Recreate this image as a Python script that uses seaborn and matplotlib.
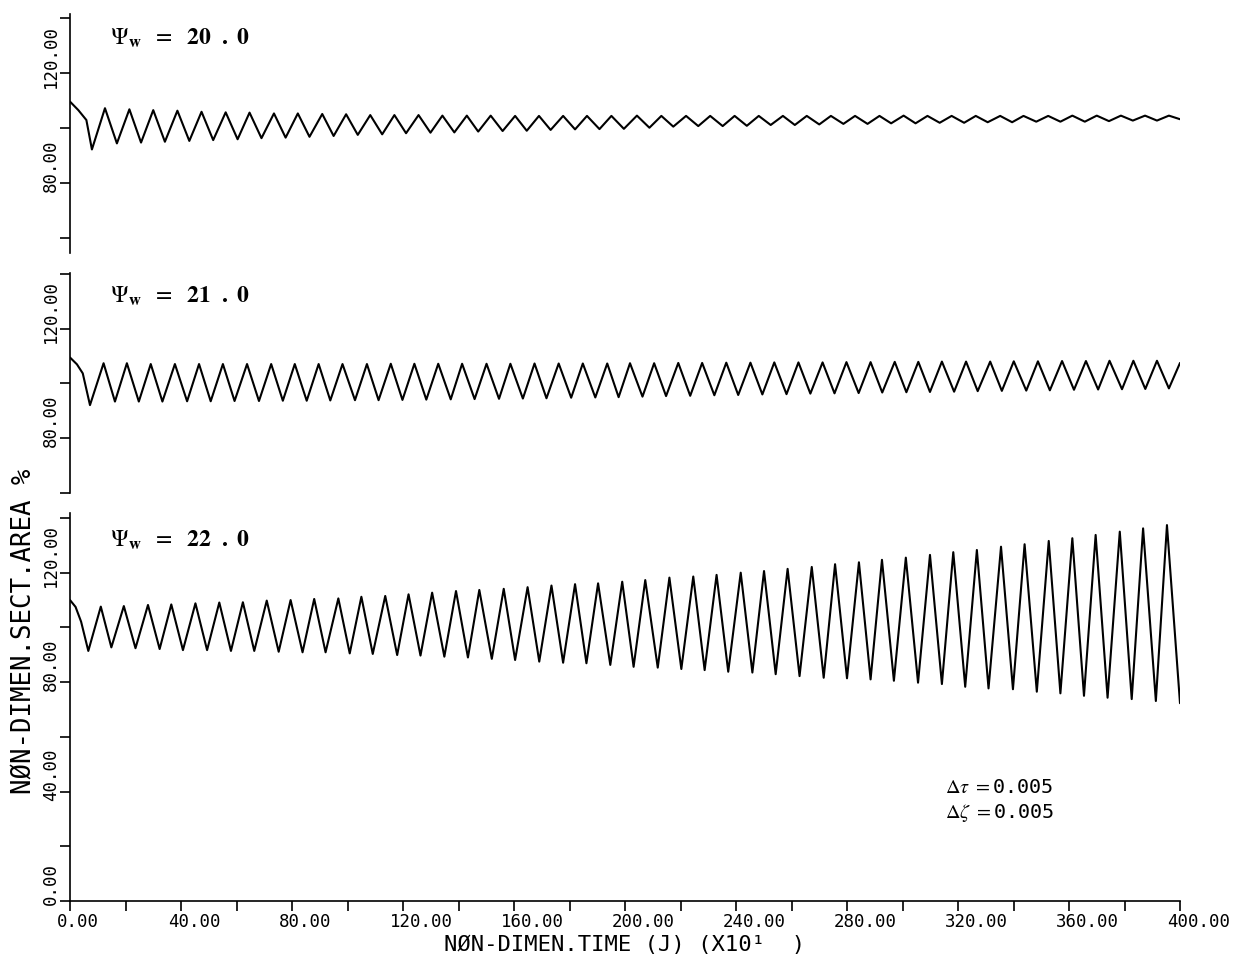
import matplotlib
matplotlib.use("Agg")
import matplotlib.pyplot as plt
import matplotlib.transforms as mtransforms
import seaborn as sns

# ---------------- data ----------------
# time axis (NON-DIMEN. TIME, x10^1), extrema of each oscillation
top_t = [0, 3.0, 5.9, 7.9, 12.6, 16.9, 21.4, 25.6, 30.0, 34.2, 38.7, 43.0, 47.4, 51.6, 56.1, 60.4,
         64.7, 69.0, 73.5, 77.7, 82.1, 86.3, 90.9, 95.0, 99.5, 103.7, 108.2, 112.5, 116.9, 121.1,
         125.6, 129.9, 134.2, 138.5, 143.0, 147.1, 151.6, 155.9, 160.4, 164.6, 169.0, 173.2, 177.7,
         182.0, 186.3, 190.8, 195.1, 199.6, 204.3, 208.8, 213.1, 217.4, 222.0, 226.4, 230.7, 235.2,
         239.5, 243.9, 248.2, 252.5, 256.9, 261.2, 265.5, 270.0, 274.2, 278.7, 282.9, 287.4, 291.7,
         295.9, 300.4, 304.7, 309.0, 313.4, 317.7, 322.2, 326.4, 330.7, 335.2, 339.5, 343.6, 348.2,
         352.5, 356.9, 361.2, 365.7, 370.0, 374.4, 378.7, 383.0, 387.4, 391.7, 396.0, 400.0]
top_v = [109.6, 106.5, 102.9, 92.2, 107.2, 94.4, 106.8, 94.7, 106.5, 95.0, 106.3, 95.3, 105.9, 95.6,
         105.7, 95.9, 105.6, 96.3, 105.3, 96.5, 105.3, 96.8, 105.1, 97.1, 105.0, 97.5, 104.7, 97.7,
         104.7, 98.1, 104.7, 98.3, 104.5, 98.4, 104.5, 98.7, 104.5, 98.9, 104.4, 99.0, 104.4, 99.3,
         104.4, 99.5, 104.4, 99.6, 104.4, 99.7, 104.5, 100.1, 104.4, 100.5, 104.4, 100.7, 104.4,
         100.7, 104.4, 100.8, 104.4, 101.1, 104.4, 101.1, 104.4, 101.3, 104.4, 101.5, 104.4, 101.5,
         104.4, 101.7, 104.5, 101.7, 104.4, 101.9, 104.4, 101.9, 104.4, 102.1, 104.4, 102.1, 104.4,
         102.3, 104.4, 102.3, 104.5, 102.3, 104.5, 102.5, 104.5, 102.7, 104.5, 102.7, 104.5, 103.2]

mid_t = [0, 2.5, 4.6, 7.2, 12.1, 16.2, 20.5, 24.8, 29.1, 33.3, 37.8, 42.2, 46.5, 50.7, 55.1, 59.3,
         63.8, 68.1, 72.5, 76.7, 81.0, 85.3, 89.6, 93.8, 98.2, 102.7, 107.0, 111.2, 115.6, 119.8,
         124.1, 128.4, 132.7, 137.2, 141.3, 145.8, 150.1, 154.6, 158.7, 163.2, 167.4, 171.7, 176.1,
         180.6, 184.8, 189.3, 193.6, 197.7, 201.8, 206.3, 210.5, 214.8, 219.2, 223.5, 227.8, 232.2,
         236.5, 240.8, 245.2, 249.5, 253.8, 258.2, 262.5, 266.8, 271.2, 275.5, 279.8, 284.2, 288.5,
         292.7, 297.2, 301.4, 305.7, 309.9, 314.2, 318.6, 322.9, 327.1, 331.6, 335.8, 340.1, 344.6,
         348.8, 353.1, 357.5, 361.8, 366.1, 370.5, 374.6, 379.1, 383.2, 387.5, 391.7, 396.0, 400.0]
mid_v = [109.5, 107.0, 103.7, 92.1, 107.4, 93.4, 107.4, 93.4, 107.1, 93.4, 107.1, 93.5, 107.1, 93.5,
         107.1, 93.6, 107.1, 93.6, 107.1, 93.7, 107.1, 93.7, 107.1, 93.8, 107.1, 93.9, 107.1, 93.9,
         107.2, 94.0, 107.2, 94.1, 107.2, 94.2, 107.2, 94.3, 107.2, 94.4, 107.2, 94.5, 107.3, 94.6,
         107.3, 94.8, 107.3, 94.9, 107.3, 95.0, 107.4, 95.2, 107.4, 95.4, 107.5, 95.5, 107.5, 95.7,
         107.6, 95.8, 107.6, 96.0, 107.7, 96.1, 107.7, 96.3, 107.7, 96.4, 107.8, 96.5, 107.8, 96.7,
         107.9, 96.8, 107.9, 96.9, 108.0, 97.0, 108.0, 97.2, 108.0, 97.3, 108.1, 97.4, 108.1, 97.5,
         108.2, 97.7, 108.2, 97.8, 108.3, 97.9, 108.3, 98.0, 108.3, 98.2, 107.5]

bot_t = [0, 2.0, 4.0, 6.6, 11.1, 14.9, 19.4, 23.6, 28.1, 32.3, 36.5, 40.7, 45.2, 49.4, 53.8, 58.0,
         62.3, 66.4, 70.9, 75.2, 79.5, 83.8, 88.0, 92.1, 96.7, 100.8, 105.0, 109.1, 113.6, 117.9,
         122.0, 126.3, 130.5, 134.9, 139.1, 143.4, 147.5, 152.0, 156.3, 160.4, 164.9, 169.1, 173.5,
         177.7, 182.0, 186.1, 190.3, 194.7, 199.0, 203.1, 207.3, 211.8, 216.0, 220.3, 224.6, 228.7,
         233.0, 237.2, 241.7, 245.9, 250.1, 254.3, 258.6, 262.9, 267.3, 271.6, 275.7, 280.0, 284.3,
         288.5, 292.6, 296.9, 301.2, 305.6, 309.9, 314.2, 318.3, 322.6, 326.8, 331.0, 335.5, 339.8,
         344.0, 348.4, 352.7, 356.9, 361.2, 365.4, 369.6, 373.9, 378.3, 382.6, 386.7, 391.3, 395.3,
         400.0]
bot_v = [110.0, 107.5, 102.1, 91.4, 107.6, 92.7, 107.8, 92.4, 108.2, 92.1, 108.4, 91.7, 108.8, 91.7,
         109.1, 91.4, 109.2, 91.4, 109.8, 91.1, 110.0, 90.9, 110.4, 90.9, 110.6, 90.5, 111.2, 90.3,
         111.5, 89.9, 112.1, 89.7, 112.7, 89.3, 113.3, 89.0, 113.7, 88.5, 114.1, 88.1, 114.7, 87.5,
         115.3, 87.1, 115.8, 86.9, 116.1, 86.3, 116.7, 85.6, 117.3, 85.3, 118.2, 84.8, 118.6, 84.4,
         119.2, 83.8, 120.0, 83.5, 120.6, 82.9, 121.4, 82.2, 122.1, 81.6, 123.1, 81.4, 123.8, 81.0,
         124.7, 80.5, 125.5, 79.8, 126.5, 79.3, 127.5, 78.3, 128.3, 77.7, 129.5, 77.4, 130.4, 76.5,
         131.6, 75.9, 132.6, 75.0, 133.8, 74.3, 135.0, 73.8, 136.2, 73.1, 137.4, 72.3]

psi_values = ["20", "21", "22"]
x_ticks = list(range(0, 401, 20))
x_ticklabels = [f"{v:.2f}" if v % 40 == 0 else "" for v in x_ticks]
y_ticks_upper = list(range(60, 141, 20))
y_ticks_lower = list(range(0, 141, 20))
x_label = "NØN-DIMEN.TIME (J) (X10¹  )"
y_label = "NØN-DIMEN.SECT.AREA %"

# ---------------- style ----------------
sns.set_theme(style="ticks")
plt.rcParams["font.family"] = ["DejaVu Sans Mono", "DejaVu Sans"]
plt.rcParams["mathtext.fontset"] = "stix"

W, H = 1233, 957
fig = plt.figure(figsize=(W / 100, H / 100), dpi=100)
fig.patch.set_facecolor("white")


def px_axes(left, top, right, bottom):
    return fig.add_axes([left / W, 1 - bottom / H, (right - left) / W, (bottom - top) / H])


ax_top = px_axes(70, 13.9, 1180, 253.1)
ax_mid = px_axes(70, 272.6, 1180, 493.0)
ax_bot = px_axes(70, 512.5, 1180, 901.0)

series = [(ax_top, top_t, top_v), (ax_mid, mid_t, mid_v), (ax_bot, bot_t, bot_v)]
for ax, t, v in series:
    sns.lineplot(x=t, y=v, ax=ax, color="black", linewidth=1.5, estimator=None, sort=False)
    ax.lines[-1].set_solid_joinstyle("round")
    ax.set_facecolor("white")
    ax.set_xlim(0, 400)
    for s in ["top", "right"]:
        ax.spines[s].set_visible(False)
    ax.spines["left"].set_linewidth(1.2)
    ax.spines["left"].set_color("black")

ax_top.set_ylim(54.5, 141.5)
ax_mid.set_ylim(60, 140.5)
ax_bot.set_ylim(0, 142)

lab_font = dict(fontsize=12.5, family=["DejaVu Sans Mono", "DejaVu Sans"], color="black")
shift_up = mtransforms.ScaledTranslation(0, 17 / 100, fig.dpi_scale_trans)
shift_left = mtransforms.ScaledTranslation(-13 / 100, 0, fig.dpi_scale_trans)

for ax, yt in [(ax_top, y_ticks_upper), (ax_mid, y_ticks_upper), (ax_bot, y_ticks_lower)]:
    ax.set_yticks(yt, [f"{v:.2f}" if v % 40 == 0 else "" for v in yt], **lab_font)
    ax.tick_params(axis="y", direction="out", length=7, width=1.2, color="black",
                   labelrotation=90, pad=0)
    for lab in ax.get_yticklabels():
        lab.set_va("center")
        lab.set_ha("right")
        lab.set_transform(lab.get_transform() + shift_up)

for ax in (ax_top, ax_mid):
    ax.spines["bottom"].set_visible(False)
    ax.set_xticks([])

ax_bot.spines["bottom"].set_linewidth(1.2)
ax_bot.spines["bottom"].set_color("black")
ax_bot.set_xticks(x_ticks, x_ticklabels, **lab_font)
ax_bot.tick_params(axis="x", direction="out", length=7, width=1.2, color="black", pad=1.5)
for lab in ax_bot.get_xticklabels():
    lab.set_ha("left")
    lab.set_transform(lab.get_transform() + shift_left)

ax_bot.set_xlabel(x_label, fontsize=16, color="black", va="baseline")
ax_bot.xaxis.set_label_coords(0.5, -(951 - 901) / 388.5)
ax_bot.set_ylabel(y_label, fontsize=18.5, color="black")
ax_bot.yaxis.set_label_coords(-0.029, 0.695)

# panel annotations
psi_pos = [(ax_top, 130.2), (ax_mid, 129.4), (ax_bot, 129.4)]
for (ax, yv), val in zip(psi_pos, psi_values):
    ax.text(14.4, yv,
            r"$\mathit{\Psi}_{\mathbf{w}}\ \ =\ \ \mathbf{" + val + r"}\ \ \mathbf{.}\ \mathbf{0}$",
            fontsize=17, va="baseline", ha="left", color="black")

ax_bot.text(315.3, 39.5, r"$\mathit{\Delta\tau}\ =$" + "0.005", fontsize=14.5, va="baseline",
            ha="left", color="black")
ax_bot.text(315.3, 30.3, r"$\mathit{\Delta\zeta}\ =$" + "0.005", fontsize=14.5, va="baseline",
            ha="left", color="black")

fig.savefig("out.png", dpi=100, facecolor="white")
